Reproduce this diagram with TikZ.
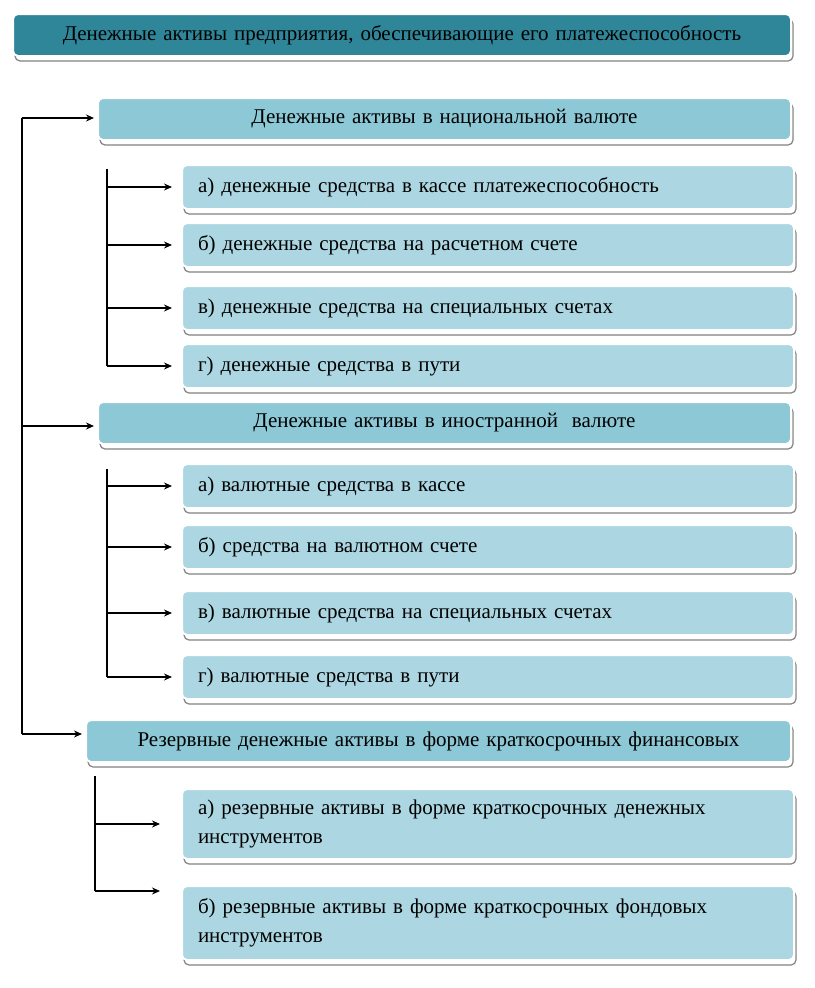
\documentclass[tikz,border=0pt]{standalone}
\usepackage{fontspec}
\setmainfont{Liberation Serif}
\usetikzlibrary{shadows,arrows.meta,calc}
\definecolor{hdrc}{RGB}{48,134,153}
\definecolor{lvlc}{RGB}{140,200,214}
\definecolor{subc}{RGB}{172,215,226}
\definecolor{shc}{RGB}{130,130,130}
\begin{document}
\begin{tikzpicture}[x=1pt,y=-1pt,
  box/.style={anchor=north west, rounded corners=5pt, draw=white, line width=2pt,
    inner ysep=0pt, inner xsep=16pt, font=\fontsize{21}{29}\selectfont, text=black,
    general shadow={shadow xshift=2pt, shadow yshift=-5pt, fill=white, draw=shc, line width=1.2pt}},
  hdr/.style={box, fill=hdrc, align=center},
  lvl/.style={box, fill=lvlc, align=center},
  subb/.style={box, fill=subc, align=left},
  conn/.style={line width=1.6pt, black},
  arr/.style={conn, -{Stealth[length=8pt,width=7pt]}}
]
\useasboundingbox (0,0) rectangle (814,988);
\fill[white] (0,0) rectangle (814,988);

\node[hdr, text width=746pt, minimum height=42pt] (hdr) at (12,13)
  {Денежные активы предприятия, обеспечивающие его платежеспособность};

\node[lvl, text width=661pt, minimum height=42pt] (nat) at (97,97)
  {Денежные активы в национальной валюте};
\node[subb, text width=580pt, minimum height=44pt] (n1) at (181,164)
  {а) денежные средства в кассе платежеспособность};
\node[subb, text width=580pt, minimum height=44pt] (n2) at (181,222)
  {б) денежные средства на расчетном счете};
\node[subb, text width=580pt, minimum height=44pt] (n3) at (181,285)
  {в) денежные средства на специальных счетах};
\node[subb, text width=580pt, minimum height=44pt] (n4) at (181,343)
  {г) денежные средства в пути};

\node[lvl, text width=661pt, minimum height=42pt] (for) at (97,401)
  {Денежные активы в иностранной\ \ валюте};
\node[subb, text width=580pt, minimum height=44pt] (f1) at (181,463)
  {а) валютные средства в кассе};
\node[subb, text width=580pt, minimum height=44pt] (f2) at (181,524)
  {б) средства на валютном счете};
\node[subb, text width=580pt, minimum height=44pt] (f3) at (181,590)
  {в) валютные средства на специальных счетах};
\node[subb, text width=580pt, minimum height=44pt] (f4) at (181,654)
  {г) валютные средства в пути};

\node[lvl, text width=673pt, minimum height=42pt] (res) at (85,719)
  {Резервные денежные активы в форме краткосрочных финансовых};
\node[subb, text width=580pt, minimum height=70pt] (r1) at (181,788)
  {а) резервные активы в форме краткосрочных денежных\\инструментов};
\node[subb, text width=580pt, minimum height=74pt] (r2) at (181,885)
  {б) резервные активы в форме краткосрочных фондовых\\инструментов};

% main trunk
\coordinate (m1) at (22,118);
\coordinate (m2) at (22,426);
\coordinate (m3) at (22,734);
\draw[conn] (m1) -- (m3);
\draw[arr, shorten >=3pt] (m1) -- (m1 -| nat.west);
\draw[arr, shorten >=3pt] (m2) -- (m2 -| for.west);
\draw[arr, shorten >=3pt] (m3) -- (m3 -| res.west);

% group 1
\coordinate (g1) at (107,169);
\draw[conn] (g1) -- (g1 |- n4.west);
\foreach \b in {n1,n2,n3,n4}
  \draw[arr, shorten >=9pt] (g1 |- \b.west) -- (\b.west);

% group 2
\coordinate (g2) at (107,469);
\draw[conn] (g2) -- (g2 |- f4.west);
\foreach \b in {f1,f2,f3,f4}
  \draw[arr, shorten >=9pt] (g2 |- \b.west) -- (\b.west);

% group 3
\coordinate (g3) at (95,776);
\coordinate (g3b) at (95,891);
\draw[conn] (g3) -- (g3b);
\draw[arr, shorten >=21pt] (g3 |- r1.west) -- (r1.west);
\draw[arr, shorten >=21pt] (g3b) -- (g3b -| r2.west);
\end{tikzpicture}
\end{document}
